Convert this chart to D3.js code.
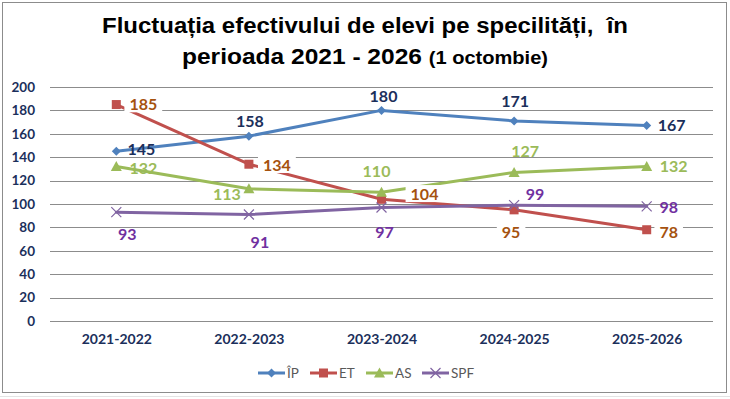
<!DOCTYPE html>
<html>
<head>
<meta charset="utf-8">
<script src="https://cdn.jsdelivr.net/npm/d3@7"></script>
<style>
  html, body { margin: 0; padding: 0; background: #fff; }
  svg { display: block; }
</style>
</head>
<body>
<div id="chart"></div>
<script>
// Chart data
const categories = ["2021-2022", "2022-2023", "2023-2024", "2024-2025", "2025-2026"];
const ipValues = [145, 158, 180, 171, 167];
const etValues = [185, 134, 104, 95, 78];
const asValues = [132, 113, 110, 127, 132];
const spfValues = [93, 91, 97, 99, 98];
const yTicks = [0, 20, 40, 60, 80, 100, 120, 140, 160, 180, 200];
const seriesNames = ["ÎP", "ET", "AS", "SPF"];

// Declare the chart dimensions and margins.
const width = 730;
const height = 399;
const plot = { left: 50, right: 713, top: 87, bottom: 321 };

const series = [
    { name: seriesNames[0], values: ipValues, color: "#4F81BD", labelColor: "#1B2F5B", marker: "diamond", boxed: false,
      offsets: [[25, -2], [1, -15], [2, -14], [1, -20], [25, 0]] },
    { name: seriesNames[1], values: etValues, color: "#C0504D", labelColor: "#A5520F", marker: "square", boxed: true,
      offsets: [[27, 0], [28, 1], [43, -5], [-3, 22], [22, 2]] },
    { name: seriesNames[2], values: asValues, color: "#9BBB59", labelColor: "#9BBB59", marker: "triangle", boxed: false,
      offsets: [[27, 2], [-22, 5], [-5, -21], [11, -21], [27, 0]] },
    { name: seriesNames[3], values: spfValues, color: "#8064A2", labelColor: "#7030A0", marker: "cross", boxed: false,
      offsets: [[11, 22], [11, 28], [3, 25], [21, -11], [22, 1]] }
];

const svg = d3.select("#chart").append("svg")
    .attr("width", width)
    .attr("height", height)
    .style("font-family", "Lato, 'Open Sans', sans-serif");

// faint spreadsheet cells around the chart
svg.append("rect").attr("x", 0).attr("y", 0).attr("width", width).attr("height", height).attr("fill", "#fff");
svg.append("line").attr("x1", 0).attr("x2", width).attr("y1", 396.5).attr("y2", 396.5)
    .attr("stroke", "#e3e3e3");

// chart frame
svg.append("rect")
    .attr("x", 2.5).attr("y", 2.5)
    .attr("width", 724).attr("height", 390)
    .attr("fill", "#fff")
    .attr("stroke", "#8c8c8c")
    .attr("stroke-width", 1);

// Title
const title = svg.append("g")
    .attr("font-family", "'Liberation Sans', Arial, sans-serif")
    .attr("font-weight", "bold")
    .attr("fill", "#000")
    .attr("text-anchor", "middle");
title.append("text")
    .attr("x", 365).attr("y", 33)
    .attr("font-size", 22)
    .attr("textLength", 526)
    .attr("lengthAdjust", "spacingAndGlyphs")
    .style("white-space", "pre")
    .text("Fluctuația efectivului de elevi pe specilități,  în");
const t2 = title.append("text")
    .attr("x", 365).attr("y", 64)
    .attr("font-size", 22)
    .attr("textLength", 366)
    .attr("lengthAdjust", "spacingAndGlyphs");
t2.append("tspan").text("perioada 2021 - 2026 ");
t2.append("tspan").attr("font-size", 18).text("(1 octombie)");

// Create the positional scales.
const x = d3.scalePoint()
    .domain(categories)
    .range([plot.left, plot.right])
    .padding(0.5);

const y = d3.scaleLinear()
    .domain([0, 200])
    .range([plot.bottom, plot.top]);

// Gridlines
svg.append("g")
    .selectAll("line")
    .data(yTicks)
    .join("line")
    .attr("x1", plot.left).attr("x2", plot.right)
    .attr("y1", d => Math.round(y(d)) + 0.5)
    .attr("y2", d => Math.round(y(d)) + 0.5)
    .attr("stroke", "#8c8c8c")
    .attr("stroke-width", 1);

// Add the vertical axis.
svg.append("g")
    .attr("transform", `translate(${plot.left},0)`)
    .call(d3.axisLeft(y).tickValues(yTicks).tickSize(0).tickPadding(15))
    .call(g => g.select(".domain").remove())
    .call(g => g.selectAll("text")
        .attr("font-family", "Lato, sans-serif")
        .attr("font-size", 13.5)
        .attr("font-weight", "bold")
        .attr("fill", "#1B2F5B"));

// Add the horizontal axis.
svg.append("g")
    .attr("transform", `translate(0,${plot.bottom})`)
    .call(d3.axisBottom(x).tickSize(0).tickPadding(13))
    .call(g => g.select(".domain").remove())
    .call(g => g.selectAll("text")
        .attr("font-family", "Lato, sans-serif")
        .attr("font-size", 14)
        .attr("font-weight", "bold")
        .attr("fill", "#1B2F5B"));

// marker shapes
function drawMarker(g, type, color, size) {
    if (type === "diamond") {
        g.append("path").attr("d", `M0,${-size}L${size},0L0,${size}L${-size},0Z`).attr("fill", color);
    } else if (type === "square") {
        g.append("rect").attr("x", -size).attr("y", -size).attr("width", 2 * size).attr("height", 2 * size).attr("fill", color);
    } else if (type === "triangle") {
        g.append("path").attr("d", `M0,${-size - 1}L${size + 1},${size}L${-size - 1},${size}Z`).attr("fill", color);
    } else if (type === "cross") {
        g.append("path").attr("d", `M${-size},${-size}L${size},${size}M${-size},${size}L${size},${-size}`)
            .attr("stroke", color).attr("stroke-width", 1.2).attr("fill", "none");
    }
}
const markerSize = { diamond: 4.5, square: 4.5, triangle: 4.5, cross: 5 };

const line = d3.line()
    .x((d, i) => x(categories[i]))
    .y(d => y(d));

// Lines and markers
series.forEach(s => {
    svg.append("path")
        .datum(s.values)
        .attr("fill", "none")
        .attr("stroke", s.color)
        .attr("stroke-width", 3)
        .attr("stroke-linejoin", "round")
        .attr("stroke-linecap", "round")
        .attr("d", line);
    s.values.forEach((v, i) => {
        const g = svg.append("g").attr("transform", `translate(${x(categories[i])},${y(v)})`);
        drawMarker(g, s.marker, s.color, markerSize[s.marker]);
    });
});

// Data labels
series.forEach(s => {
    s.values.forEach((v, i) => {
        const cx = x(categories[i]) + s.offsets[i][0];
        const cy = y(v) + s.offsets[i][1];
        const lg = svg.append("g");
        const t = lg.append("text")
            .attr("x", cx).attr("y", cy)
            .attr("dy", "0.36em")
            .attr("text-anchor", "middle")
            .attr("font-family", "Lato, sans-serif")
            .attr("font-size", 16)
            .attr("font-weight", "bold")
            .attr("fill", s.labelColor)
            .text(v);
        if (s.boxed) {
            const bb = t.node().getBBox();
            lg.insert("rect", "text")
                .attr("x", bb.x - 5).attr("y", bb.y + 1)
                .attr("width", bb.width + 10).attr("height", bb.height - 2)
                .attr("fill", "#fff");
        }
    });
});

// Legend
const legendX = [258, 310, 366, 422];
const legend = svg.append("g").attr("transform", "translate(0,373)");
series.forEach((s, i) => {
    const g = legend.append("g").attr("transform", `translate(${legendX[i]},0)`);
    g.append("line").attr("x1", 0).attr("x2", 27).attr("y1", 0).attr("y2", 0)
        .attr("stroke", s.color).attr("stroke-width", 3);
    const m = g.append("g").attr("transform", "translate(13.5,0)");
    drawMarker(m, s.marker, s.color, markerSize[s.marker]);
    g.append("text")
        .attr("x", 29).attr("y", 0).attr("dy", "0.36em")
        .attr("font-family", "Lato, sans-serif")
        .attr("font-size", 13.5)
        .attr("fill", "#595959")
        .text(s.name);
});
</script>
</body>
</html>
